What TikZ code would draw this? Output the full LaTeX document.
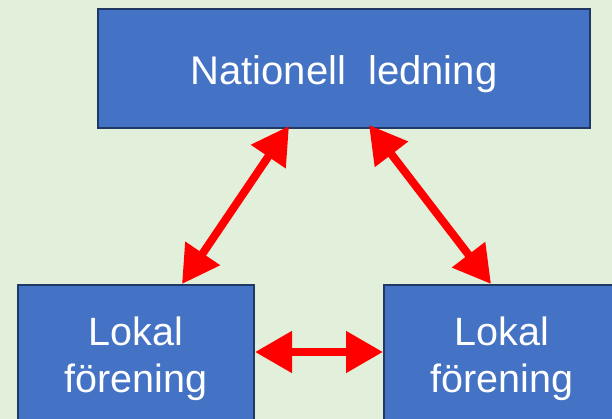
\documentclass[tikz,border=0pt]{standalone}
\usepackage{fontspec}
\setmainfont{Liberation Sans}
\usetikzlibrary{arrows.meta,calc}
\definecolor{bg}{HTML}{E2EFDA}
\definecolor{boxfill}{HTML}{4472C4}
\definecolor{boxline}{HTML}{1F3864}
\definecolor{arrred}{HTML}{FF0000}
\tikzset{
  orgbox/.style={draw=boxline, fill=boxfill, line width=2pt, text=white, align=center, inner sep=0pt},
  bigtext/.style={font=\fontsize{40}{47}\selectfont},
  lokaltext/.style={font=\fontsize{39.5}{47}\selectfont},
  dblarrow/.style={arrred, line width=8pt, {Triangle[length=37pt,width=40pt]}-{Triangle[length=37pt,width=40pt]}}
}
\begin{document}
\begin{tikzpicture}[x=1pt,y=-1pt]
  \fill[bg] (0,0) rectangle (612,419);
  \useasboundingbox (0,0) rectangle (612,419);
  \clip (0,0) rectangle (612,419);
  \node[orgbox, bigtext, minimum width=492pt, minimum height=119pt, text height=33pt, text depth=0pt] (top) at (344,68.5) {Nationell\ \ ledning};
  \node[orgbox, lokaltext, minimum width=236pt, minimum height=147pt] (lok1) at (136,358.5) {Lokal\\förening};
  \node[orgbox, lokaltext, minimum width=236pt, minimum height=147pt] (lok2) at (502,358.5) {Lokal\\förening};
  \draw[dblarrow] ([xshift=192pt,yshift=3pt]top.south west) -- ([xshift=165pt]lok1.north west);
  \draw[dblarrow] ([xshift=272pt,yshift=4pt]top.south west) -- ([xshift=108pt]lok2.north west);
  \draw[dblarrow] ([yshift=-68pt]lok1.north east) -- ([yshift=-68pt]lok2.north west);
\end{tikzpicture}
\end{document}
